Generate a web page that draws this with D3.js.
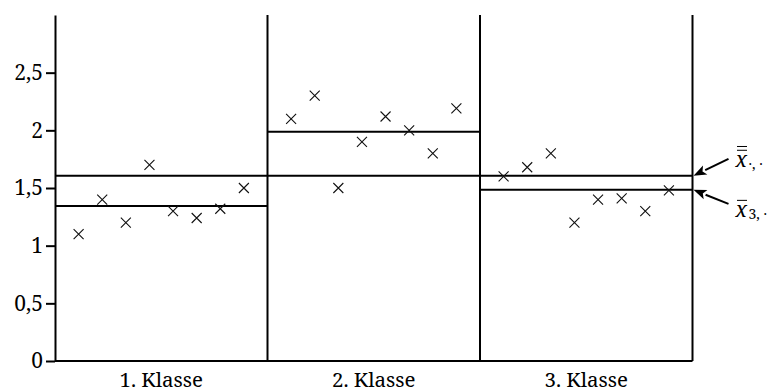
<!DOCTYPE html>
<html>
<head>
<meta charset="utf-8">
<script src="https://cdn.jsdelivr.net/npm/d3@7"></script>
<style>
  html, body { margin: 0; padding: 0; background: #fff; }
</style>
</head>
<body>
<svg id="chart" width="771" height="392"></svg>
<script>
// ---- data ----
const classes = ["1. Klasse", "2. Klasse", "3. Klasse"];
const values1 = [1.1, 1.4, 1.2, 1.7, 1.3, 1.24, 1.32, 1.5];
const values2 = [2.1, 2.3, 1.5, 1.9, 2.12, 2.0, 1.8, 2.19];
const values3 = [1.6, 1.68, 1.8, 1.2, 1.4, 1.41, 1.3, 1.48];
const yTicks = [0, 0.5, 1, 1.5, 2, 2.5];
const yDomain = [0, 3];

const series = [values1, values2, values3];

// ---- layout ----
const W = 771, H = 392;
const margin = { left: 55, right: 78.5, top: 15, bottom: 31 };
const svg = d3.select("#chart");
const black = "#000";
const FONT = '"Noto Serif", "DejaVu Serif", serif';

const x = d3.scaleBand().domain(classes).range([margin.left, W - margin.right]).padding(0);
const y = d3.scaleLinear().domain(yDomain).range([H - margin.bottom, margin.top]);
const nPer = d3.max(series, s => s.length);
const xi = d3.scaleLinear().domain([0, nPer + 1]).range([0, x.bandwidth()]);

const fmt = v => String(v).replace(".", ",");

// y axis
const yAxis = d3.axisLeft(y).tickValues(yTicks).tickFormat(fmt).tickSize(9).tickSizeOuter(0).tickPadding(3);
const gy = svg.append("g").attr("transform", `translate(${margin.left},0)`).call(yAxis)
  .attr("font-family", null).attr("font-size", null);
gy.select(".domain").attr("stroke", black).attr("stroke-width", 2);
gy.selectAll(".tick line").attr("stroke", black).attr("stroke-width", 2);
gy.selectAll(".tick text").attr("fill", black)
  .style("font-family", FONT).style("font-size", "21px");

// bottom axis line
svg.append("line")
  .attr("x1", x.range()[0]).attr("x2", x.range()[1])
  .attr("y1", y(0)).attr("y2", y(0))
  .attr("stroke", black).attr("stroke-width", 2);

// vertical class separators (right edges)
svg.selectAll("line.sep").data(classes).join("line")
  .attr("class", "sep")
  .attr("x1", d => x(d) + x.bandwidth()).attr("x2", d => x(d) + x.bandwidth())
  .attr("y1", y(yDomain[0])).attr("y2", y(yDomain[1]))
  .attr("stroke", black).attr("stroke-width", 2);

// grand mean
const all = series.flat();
const grand = d3.mean(all);
svg.append("line")
  .attr("x1", x.range()[0]).attr("x2", x.range()[1])
  .attr("y1", y(grand)).attr("y2", y(grand))
  .attr("stroke", black).attr("stroke-width", 2);

// class means
const means = series.map(s => d3.mean(s));
svg.selectAll("line.cmean").data(classes).join("line")
  .attr("class", "cmean")
  .attr("x1", d => x(d)).attr("x2", d => x(d) + x.bandwidth())
  .attr("y1", (d, i) => y(means[i])).attr("y2", (d, i) => y(means[i]))
  .attr("stroke", black).attr("stroke-width", 2);

// crosses
const pts = [];
series.forEach((s, ci) => s.forEach((v, i) => pts.push({ c: classes[ci], i, v })));
const cs = 5;
svg.selectAll("path.pt").data(pts).join("path")
  .attr("class", "pt")
  .attr("d", d => {
    const cx = x(d.c) + xi(d.i + 1), cy = y(d.v);
    return `M${cx - cs},${cy - cs}L${cx + cs},${cy + cs}M${cx - cs},${cy + cs}L${cx + cs},${cy - cs}`;
  })
  .attr("fill", "none").attr("stroke", "#111").attr("stroke-width", 1.1);

// class labels
svg.selectAll("text.cl").data(classes).join("text")
  .attr("class", "cl")
  .attr("x", d => x(d) + x.bandwidth() / 2)
  .attr("y", H - 5)
  .attr("text-anchor", "middle")
  .style("font-family", FONT).style("font-size", "20.5px")
  .attr("fill", black)
  .text(d => d);

// annotations with arrows
const xEnd = x.range()[1];
const annots = [
  { tipY: y(grand), tail: [36, -17], label: [43, -9], bars: 2, sub: "·, ·" },
  { tipY: y(means[2]), tail: [36, 14], label: [43, 27], bars: 1, sub: "3, ·" }
];
annots.forEach(a => {
  const tx = xEnd + 1, ty = a.tipY;
  const sx = xEnd + a.tail[0], sy = ty + a.tail[1];
  const dx = sx - tx, dy = sy - ty, len = Math.hypot(dx, dy);
  const ux = dx / len, uy = dy / len;
  const hl = 13, hw = 5;
  const bx = tx + ux * hl, by = ty + uy * hl;
  svg.append("line").attr("x1", sx).attr("y1", sy).attr("x2", bx).attr("y2", by)
    .attr("stroke", black).attr("stroke-width", 2);
  svg.append("path")
    .attr("d", `M${tx},${ty}L${bx - uy * hw},${by + ux * hw}L${bx + ux * -3},${by + uy * -3}L${bx + uy * hw},${by - ux * hw}Z`)
    .attr("fill", black);
  const lx = xEnd + a.label[0], ly = ty + a.label[1];
  svg.append("text").attr("x", lx).attr("y", ly)
    .style("font-family", FONT).style("font-style", "italic").style("font-size", "21px")
    .attr("fill", black).text("x");
  for (let b = 0; b < a.bars; b++) {
    svg.append("line").attr("x1", lx + 1.5).attr("x2", lx + 11.5)
      .attr("y1", ly - 16.5 - b * 3.8).attr("y2", ly - 16.5 - b * 3.8)
      .attr("stroke", black).attr("stroke-width", 1);
  }
  svg.append("text").attr("x", lx + 13).attr("y", ly + 2)
    .style("font-family", FONT).style("font-size", "14px")
    .attr("fill", black).text(a.sub);
});
</script>
</body>
</html>
